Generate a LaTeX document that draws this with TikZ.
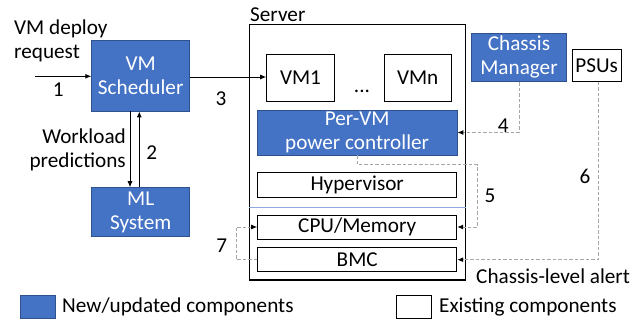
\documentclass[tikz,border=0pt]{standalone}
\usepackage{fontspec}
\setmainfont{Carlito}
\usetikzlibrary{arrows.meta,calc}
\definecolor{nblue}{HTML}{4472C4}
\definecolor{nborder}{HTML}{2F528F}
\definecolor{dgray}{HTML}{A6A6A6}
\definecolor{sepblue}{HTML}{8FAADC}
\begin{document}
\begin{tikzpicture}[x=1pt,y=-1pt,
  every node/.style={font=\fontsize{21.2}{24}\selectfont, inner sep=0pt},
  newbox/.style={draw=nborder, fill=nblue, text=white, line width=0.9pt, align=center, minimum width=#1},
  oldbox/.style={draw=black, fill=white, line width=1pt, align=center, minimum width=#1},
  conn/.style={line width=0.9pt, -{Latex[length=6pt,width=5pt]}},
  dconn/.style={draw=dgray, line width=1pt, dash pattern=on 3.5pt off 2pt, -{Latex[length=6pt,width=5pt,color=black]}},
  lbl/.style={}]
\useasboundingbox (0,0) rectangle (641,321);
% server
\node[draw=black, line width=1.3pt, minimum width=216.4pt, minimum height=255.7pt] (server) at (357.5,152.15) {};
\node[anchor=west] (servert) at (250,14.3) {Server};
% blocks
\node[newbox=98pt, minimum height=70.3pt] (sched) at (140.7,75.85) {VM\\Scheduler};
\node[newbox=98pt, minimum height=49pt] (ml) at (140.7,212.2) {ML\\System};
\node[oldbox=67.6pt, minimum height=47.4pt] (vm1) at (300.5,78) {VM1};
\node[oldbox=66.7pt, minimum height=47.4pt] (vmn) at (417.65,78) {VMn};
\node[anchor=base] (dots) at (362,92.5) {...};
\node[newbox=199.7pt, minimum height=45pt] (pvm) at (357.15,132.5) {Per-VM\\power controller};
\node[newbox=95.4pt, minimum height=48.7pt] (cm) at (519,57.35) {Chassis\\Manager};
\node[oldbox=48.7pt, minimum height=31.7pt] (psu) at (596.65,65.85) {PSUs};
\node[oldbox=199pt, minimum height=25.4pt] (hyp) at (357.2,185) {Hypervisor};
\draw[sepblue, line width=0.6pt] (server.west |- 0,207.7) -- (server.east |- 0,207.7);
\node[oldbox=199pt, minimum height=24pt] (cpu) at (357.2,227) {CPU/Memory};
\node[oldbox=199pt, minimum height=24pt] (bmc) at (357.2,259.7) {BMC};
% texts
\node[anchor=west, align=left] (req) at (14,41) {VM deploy\\request};
\node[anchor=east, align=right] (wp) at (126,150) {Workload\\predictions};
\node[anchor=west] (alert) at (476,276.5) {Chassis-level alert};
% connectors
\coordinate (in1) at (35,76.3);
\draw[conn] (in1) -- (sched.west |- in1);
\draw[conn] (sched.east |- 0,77) -- (vm1.west |- 0,77);
\draw[conn] ([xshift=-10.7pt]sched.south) -- ([xshift=-10.7pt]ml.north);
\draw[conn] ([xshift=-1.4pt]ml.north) -- ([xshift=-1.4pt]sched.south);
\draw[dconn] (cm.south) |- (pvm.east);
\coordinate (c5) at (477.3,165);
\draw[dconn] (pvm.south) |- (c5) |- (cpu.east);
\coordinate (c6) at (598.3,81.7);
\draw[dconn] (c6) |- (bmc.east);
\coordinate (c7) at (236,259.7);
\draw[dconn] (bmc.west) -- (c7) |- (cpu.west);
% numbers
\node (n1) at (58.3,89.3) {1};
\node (n2) at (151.7,152.7) {2};
\node (n3) at (221,99) {3};
\node (n4) at (503.3,125.7) {4};
\node (n5) at (490,196) {5};
\node (n6) at (585,176.7) {6};
\node (n7) at (221.7,246) {7};
% legend
\node[newbox=34.3pt, minimum height=22.6pt] (lgnew) at (37.85,307) {};
\node[anchor=west] (lgnewt) at (62,307) {New/updated components};
\node[oldbox=34.3pt, minimum height=22.6pt] (lgold) at (414,307) {};
\node[anchor=west] (lgoldt) at (439,307) {Existing components};
\end{tikzpicture}
\end{document}
